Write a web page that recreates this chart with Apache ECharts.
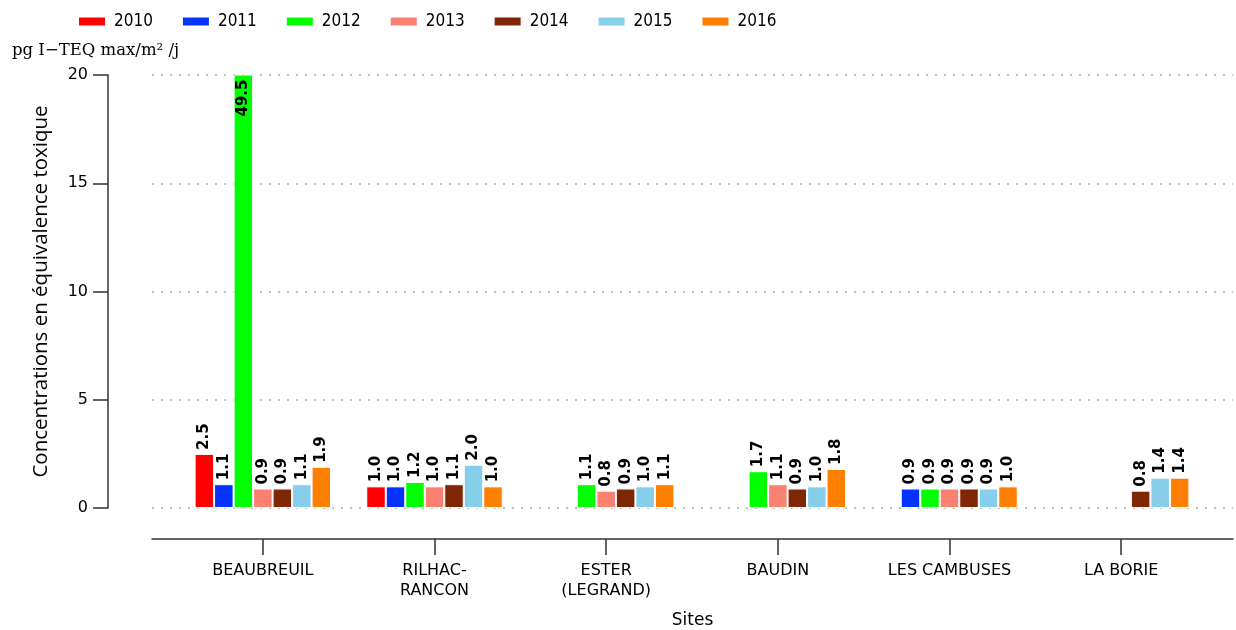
<!DOCTYPE html>
<html>
<head>
<meta charset="utf-8">
<script src="https://cdn.jsdelivr.net/npm/echarts@6/dist/echarts.min.js"></script>
<style>
  html, body { margin: 0; padding: 0; background: #fff; }
  #chart { width: 1236px; height: 630px; }
</style>
</head>
<body>
<div id="chart"></div>
<script>
// sites et valeurs
const sites = ['BEAUBREUIL', 'RILHAC-\nRANCON', 'ESTER\n(LEGRAND)', 'BAUDIN', 'LES CAMBUSES', 'LA BORIE'];
const years = ['2010', '2011', '2012', '2013', '2014', '2015', '2016'];
const v2010 = [2.5, 1.0, null, null, null, null];
const v2011 = [1.1, 1.0, null, null, 0.9, null];
const v2012 = [49.5, 1.2, 1.1, 1.7, 0.9, null];
const v2013 = [0.9, 1.0, 0.8, 1.1, 0.9, null];
const v2014 = [0.9, 1.1, 0.9, 0.9, 0.9, 0.8];
const v2015 = [1.1, 2.0, 1.0, 1.0, 0.9, 1.4];
const v2016 = [1.9, 1.0, 1.1, 1.8, 1.0, 1.4];
const yTicks = [0, 5, 10, 15, 20];

const colors = ['#ff0000', '#0433ff', '#00ff00', '#fa8072', '#7f2704', '#87ceeb', '#ff7f00'];
const allValues = [v2010, v2011, v2012, v2013, v2014, v2015, v2016];
const yMax = yTicks[yTicks.length - 1];

let chart = echarts.init(document.getElementById('chart'));

let series = years.map((y, i) => ({
    name: y,
    type: 'bar',
    xAxisIndex: 1,
    yAxisIndex: 1,
    data: allValues[i].map(v => {
        if (v == null) return null;
        // valeur hors échelle : étiquette à l'intérieur du haut de la barre
        if (v > yMax) {
            return {
                value: v,
                label: { position: 'insideTop', align: 'right', verticalAlign: 'middle', distance: 5 }
            };
        }
        return v;
    }),
    barWidth: 19.5,
    barGap: '0%',
    clip: true,
    itemStyle: { color: colors[i], borderColor: '#fff', borderWidth: 1 },
    label: {
        show: true,
        position: 'top',
        rotate: 90,
        align: 'left',
        verticalAlign: 'middle',
        distance: 4,
        fontFamily: 'DejaVu Sans',
        fontWeight: 'bold',
        fontSize: 15,
        color: '#000',
        formatter: p => p.value.toFixed(1)
    }
}));

chart.setOption({
    animation: false,
    color: colors,
    legend: {
        data: years,
        left: 72,
        top: 8,
        itemWidth: 28,
        itemHeight: 10,
        itemGap: 28,
        icon: 'rect',
        textStyle: {
            fontFamily: 'DejaVu Sans Condensed, DejaVu Sans',
            fontSize: 17,
            color: '#000',
            padding: [0, 0, 0, 3]
        }
    },
    title: {
        text: 'pg I\u2212TEQ max/m\u00b2 /j',
        left: 7,
        top: 37,
        textStyle: { fontFamily: 'DejaVu Serif', fontWeight: 'normal', fontSize: 16.5, color: '#000' }
    },
    grid: [
        { left: 152, right: 3, top: 75, bottom: 122, outerBoundsMode: 'none' },
        { left: 177, right: 29, top: 75, bottom: 122, outerBoundsMode: 'none' }
    ],
    xAxis: [
        {
            type: 'category',
            gridIndex: 0,
            data: sites,
            offset: 31,
            axisLine: { onZero: false, lineStyle: { color: '#333', width: 1.5 } },
            axisTick: { show: false },
            axisLabel: { show: false },
            name: 'Sites',
            nameLocation: 'middle',
            nameGap: 73,
            nameTextStyle: { fontFamily: 'DejaVu Sans', fontSize: 17, color: '#000' }
        },
        {
            type: 'category',
            gridIndex: 1,
            data: sites,
            offset: 31,
            axisLine: { show: false, onZero: false },
            axisTick: { show: true, alignWithLabel: true, length: 16, lineStyle: { color: '#333', width: 1.5 } },
            axisLabel: {
                margin: 22,
                fontFamily: 'DejaVu Sans',
                fontSize: 16,
                color: '#000',
                lineHeight: 20,
                interval: 0
            }
        }
    ],
    yAxis: [
        {
            type: 'value',
            gridIndex: 0,
            min: 0,
            max: yMax,
            interval: 5,
            offset: 44,
            axisLine: { show: true, lineStyle: { color: '#333', width: 1.5 } },
            axisTick: { show: true, length: 15, lineStyle: { color: '#333', width: 1.5 } },
            axisLabel: { margin: 20, fontFamily: 'DejaVu Sans', fontSize: 16, color: '#000' },
            splitLine: { show: true, lineStyle: { color: '#aaa', type: [2, 7], width: 1.5 } },
            name: 'Concentrations en \u00e9quivalence toxique',
            nameLocation: 'middle',
            nameRotate: 90,
            nameGap: 56,
            nameTextStyle: { fontFamily: 'Open Sans', fontSize: 20.5, color: '#000' }
        },
        {
            type: 'value',
            gridIndex: 1,
            min: 0,
            max: yMax,
            interval: 5,
            show: false,
            splitLine: { show: false }
        }
    ],
    series: series
});

window.addEventListener('resize', function () {
    chart.resize();
});
</script>
</body>
</html>
